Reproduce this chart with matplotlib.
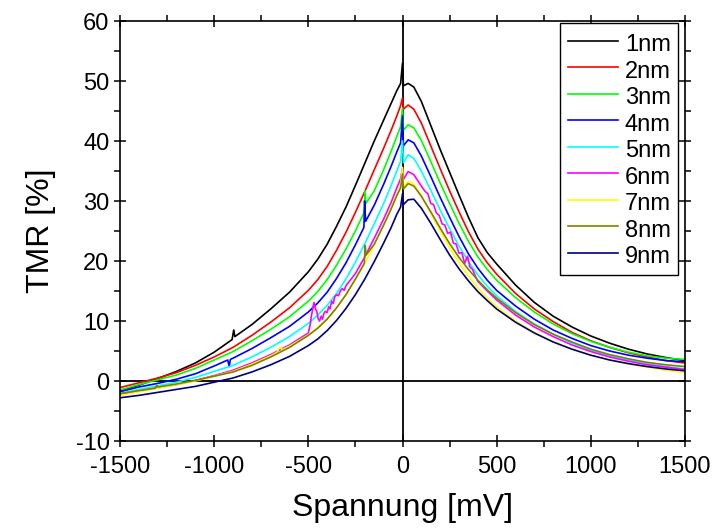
import matplotlib
matplotlib.use("Agg")
import matplotlib.pyplot as plt
from matplotlib.ticker import MultipleLocator

plt.rcParams['font.family'] = ['Liberation Sans', 'DejaVu Sans']
plt.rcParams['axes.unicode_minus'] = False

# shared voltage grid (mV)
voltage = [-1500, -1400, -1300, -1200, -1100, -1000, -900, -800, -700, -600,
           -500, -450, -400, -350, -300, -250, -200, -150, -100, -60, -30, -10,
           0, 5,
           30, 60, 100, 150, 200, 250, 300, 350, 400, 450, 500,
           600, 700, 800, 900, 1000, 1100, 1200, 1300, 1400, 1500]

labels = ["1nm", "2nm", "3nm", "4nm", "5nm", "6nm", "7nm", "8nm", "9nm"]
colors = ["#000000", "#FF0000", "#00FF00", "#0000FF", "#00FFFF", "#FF00FF",
          "#FFFF00", "#808000", "#000080"]

tmr_1nm = [-1.6, -0.7, 0.4, 1.6, 3.0, 4.8, 7.0, 9.4, 12.0, 14.8,
           18.2, 20.3, 22.8, 25.8, 29.0, 32.6, 36.3, 40.0, 43.5, 46.3, 48.4, 49.6,
           53.0, 49.2,
           49.6, 49.0, 46.6, 42.6, 38.6, 34.8, 31.0, 27.3, 23.9, 21.4, 19.5,
           16.0, 13.1, 10.8, 9.0, 7.5, 6.3, 5.3, 4.5, 3.9, 3.4]
tmr_2nm = [-1.1, -0.3, 0.5, 1.4, 2.6, 4.0, 5.6, 7.6, 9.8, 12.2,
           15.1, 16.9, 19.1, 21.8, 24.8, 28.1, 31.6, 35.2, 38.8, 41.8, 44.2, 45.9,
           47.2, 45.3,
           46.0, 45.3, 43.0, 39.2, 35.4, 31.7, 28.2, 24.9, 22.0, 19.7, 17.8,
           14.6, 12.0, 9.9, 8.1, 6.7, 5.6, 4.7, 4.0, 3.4, 3.0]
tmr_3nm = [-1.5, -0.6, 0.2, 1.0, 2.1, 3.5, 4.9, 6.7, 8.6, 10.7,
           13.3, 14.9, 16.9, 19.3, 22.0, 25.0, 28.3, 31.7, 35.2, 38.3, 40.8, 42.4,
           45.5, 41.8,
           42.7, 42.2, 40.1, 36.6, 33.0, 29.6, 26.3, 23.3, 20.7, 18.6, 16.8,
           13.9, 11.5, 9.5, 7.9, 6.6, 5.6, 4.8, 4.2, 3.8, 3.6]
tmr_4nm = [-1.8, -1.0, -0.4, 0.3, 1.2, 2.5, 3.8, 5.4, 7.2, 9.1,
           11.5, 13.0, 14.8, 17.1, 19.7, 22.7, 25.9, 29.3, 32.8, 35.8, 38.2, 39.7,
           44.2, 39.2,
           40.2, 39.7, 37.5, 34.1, 30.6, 27.3, 24.1, 21.2, 18.8, 16.8, 15.1,
           12.5, 10.3, 8.5, 7.1, 5.9, 5.0, 4.3, 3.8, 3.4, 3.2]
tmr_5nm = [-2.1, -1.4, -0.8, -0.2, 0.6, 1.6, 2.6, 4.0, 5.6, 7.4,
           9.6, 11.0, 12.6, 14.6, 17.0, 19.8, 22.9, 26.2, 29.6, 32.6, 35.0, 36.6,
           40.0, 36.4,
           37.7, 37.1, 35.0, 31.8, 28.5, 25.4, 22.5, 19.9, 17.7, 15.8, 14.2,
           11.6, 9.5, 7.8, 6.3, 5.1, 4.2, 3.5, 2.9, 2.4, 2.0]
tmr_6nm = [-2.3, -1.7, -1.1, -0.6, 0.1, 0.9, 1.8, 3.0, 4.4, 6.0,
           8.0, 9.3, 10.9, 12.9, 15.3, 17.9, 20.7, 23.8, 27.0, 29.8, 32.2, 33.7,
           35.5, 33.6,
           34.9, 34.4, 32.5, 29.6, 26.6, 23.8, 21.2, 18.9, 16.8, 15.0, 13.5,
           11.0, 9.0, 7.4, 6.0, 4.9, 4.0, 3.3, 2.7, 2.3, 1.9]
tmr_7nm = [-2.4, -1.8, -1.2, -0.6, 0.0, 0.8, 1.6, 2.8, 4.2, 5.8,
           7.7, 8.9, 10.4, 12.2, 14.4, 16.9, 19.6, 22.7, 26.0, 28.9, 31.2, 32.6,
           35.6, 32.2,
           33.3, 32.8, 30.9, 28.0, 25.0, 22.2, 19.7, 17.5, 15.5, 13.8, 12.4,
           10.0, 8.1, 6.6, 5.3, 4.3, 3.5, 2.8, 2.3, 1.8, 1.4]
tmr_8nm = [-2.1, -1.6, -1.0, -0.5, 0.1, 0.8, 1.5, 2.6, 4.0, 5.6,
           7.6, 8.8, 10.3, 12.2, 14.4, 17.0, 19.8, 22.8, 26.0, 28.7, 30.9, 32.2,
           34.5, 32.0,
           32.9, 32.5, 30.8, 28.2, 25.5, 22.9, 20.6, 18.6, 16.8, 15.2, 13.8,
           11.4, 9.4, 7.8, 6.5, 5.3, 4.4, 3.7, 3.1, 2.7, 2.4]
tmr_9nm = [-2.8, -2.4, -1.9, -1.4, -0.9, -0.2, 0.5, 1.5, 2.7, 4.1,
           5.9, 7.0, 8.4, 10.1, 12.1, 14.4, 17.0, 19.9, 23.0, 25.6, 27.8, 29.0,
           31.2, 29.4,
           30.2, 30.3, 28.8, 26.3, 23.6, 21.0, 18.7, 16.7, 14.9, 13.4, 12.0,
           9.8, 8.0, 6.5, 5.3, 4.3, 3.5, 2.9, 2.4, 2.0, 1.7]

# measurement glitches (replace the grid inside their voltage span)
glitch_1nm_v = [-905, -896, -890]
glitch_1nm_t = [6.9, 8.5, 7.4]
glitch_3nm_v = [-204, -199, -194]
glitch_3nm_t = [28.1, 31.7, 29.6]
glitch_4nm_v = [-928, -920, -914, -205, -201, -196]
glitch_4nm_t = [3.5, 2.4, 3.6, 25.6, 30.0, 26.6]
glitch_6nm_v = [-490, -485, -478, -470, -462, -455, -448, -440, -432, -425, -418, -410,
                -400, -392, -385, -376, -368, -360, -350, -340, -330, -320, -310, -300,
                100, 120, 135, 150, 165, 180, 195, 210, 225, 240, 255, 270, 285, 300,
                315, 330, 345, 358, 372, 385, 400]
glitch_6nm_t = [9.4, 10.6, 11.8, 13.1, 12.0, 11.6, 10.4, 10.0, 10.8, 10.3, 11.2, 11.6,
                11.4, 12.4, 12.0, 13.3, 12.9, 14.0, 14.4, 14.2, 15.0, 15.4, 15.1, 15.9,
                32.5, 31.6, 31.2, 29.6, 29.4, 28.0, 27.6, 26.2, 26.0, 24.6, 24.8, 23.0,
                22.8, 21.3, 21.4, 19.6, 20.8, 19.0, 18.6, 17.6, 16.6]
glitch_7nm_v = [-665, -655, -648, -640]
glitch_7nm_t = [4.8, 5.5, 5.6, 5.2]
glitch_8nm_v = [-1312, -1305, -1298, -203, -198, -193]
glitch_8nm_t = [-1.2, -0.7, -1.0, 19.6, 22.6, 21.0]

series = [tmr_1nm, tmr_2nm, tmr_3nm, tmr_4nm, tmr_5nm, tmr_6nm, tmr_7nm, tmr_8nm, tmr_9nm]
glitches = [(glitch_1nm_v, glitch_1nm_t), ([], []), (glitch_3nm_v, glitch_3nm_t),
            (glitch_4nm_v, glitch_4nm_t), ([], []), (glitch_6nm_v, glitch_6nm_t),
            (glitch_7nm_v, glitch_7nm_t), (glitch_8nm_v, glitch_8nm_t), ([], [])]


def merge(vs, ts, gv, gt):
    # group glitch points into contiguous segments
    segs = []
    if gv:
        cur = [0]
        for i in range(1, len(gv)):
            if gv[i] - gv[i - 1] > 60:
                segs.append(cur)
                cur = [i]
            else:
                cur.append(i)
        segs.append(cur)
    pts = []
    for v, t in zip(vs, ts):
        inside = any(gv[s[0]] <= v <= gv[s[-1]] for s in segs)
        if not inside:
            pts.append((v, t))
    pts += list(zip(gv, gt))
    pts.sort()
    return [p[0] for p in pts], [p[1] for p in pts]


fig = plt.figure(figsize=(7.15, 5.32), dpi=100)
ax = fig.add_axes([120 / 715, 1 - 441 / 532, 565 / 715, 420 / 532])

ax.axhline(0, color='black', lw=1.3, zorder=1)
ax.axvline(0, color='black', lw=1.3, zorder=1)

for lab, col, ts, (gv, gt) in zip(labels, colors, series, glitches):
    x, y = merge(voltage, ts, gv, gt)
    ax.plot(x, y, color=col, lw=1.2, label=lab, zorder=2)

ax.set_xlim(-1500, 1500)
ax.set_ylim(-10, 60)
ax.xaxis.set_major_locator(MultipleLocator(500))
ax.xaxis.set_minor_locator(MultipleLocator(250))
ax.yaxis.set_major_locator(MultipleLocator(10))
ax.yaxis.set_minor_locator(MultipleLocator(5))
ax.tick_params(which='both', top=True, right=True, labelsize=17, width=1.1, color='black')
ax.tick_params(which='major', direction='inout', length=9, pad=3)
ax.tick_params(which='minor', direction='out', length=4.5)
ax.tick_params(axis='x', which='major', pad=6)
for sp in ax.spines.values():
    sp.set_linewidth(1.2)

ax.set_xlabel('Spannung [mV]', fontsize=23, labelpad=11)
ax.set_ylabel('TMR [%]', fontsize=23, labelpad=14)

leg = ax.legend(loc='upper right', bbox_to_anchor=((678 - 120) / 565, (441 - 23) / 420),
                borderaxespad=0, fontsize=17, frameon=True, fancybox=False,
                edgecolor='black', framealpha=1, handlelength=2.15, handletextpad=0.28,
                handleheight=1.32, labelspacing=0.02, borderpad=0.3)
leg.get_frame().set_linewidth(1.0)

fig.savefig('out.png', dpi=100)
